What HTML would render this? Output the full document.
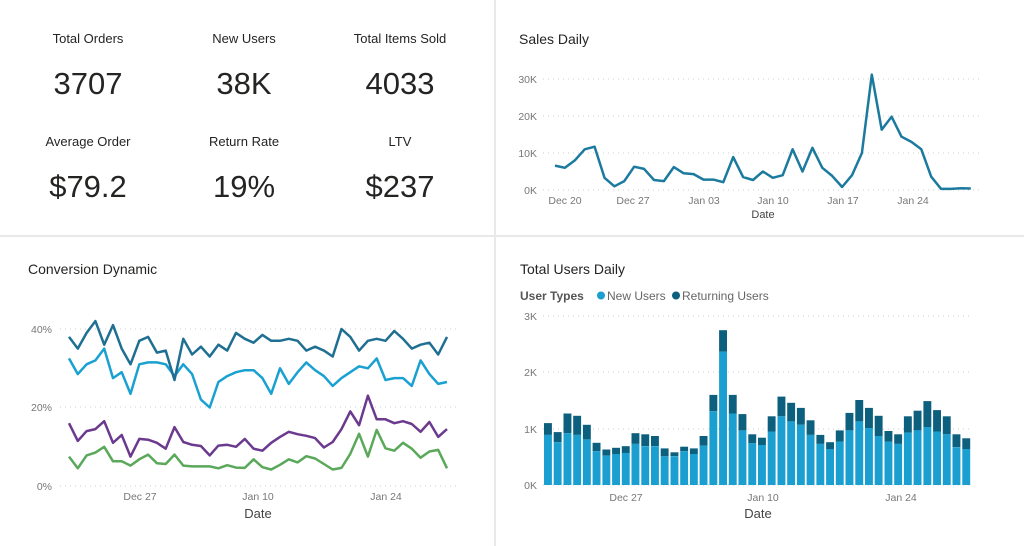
<!DOCTYPE html>
<html><head><meta charset="utf-8"><style>
html,body{margin:0;padding:0;background:#fff;width:1024px;height:546px;overflow:hidden;font-family:"Liberation Sans","DejaVu Sans",sans-serif}
svg{position:absolute;left:0;top:0}
</style></head><body>
<svg width="1024" height="546" viewBox="0 0 1024 546" font-family="Liberation Sans, DejaVu Sans, sans-serif">
<rect x="494" y="0" width="2" height="546" fill="#e9e9e9"/>
<rect x="0" y="235" width="1024" height="2" fill="#e9e9e9"/>
<g fill="#252423" text-anchor="middle">
<text x="88" y="43" font-size="13">Total Orders</text>
<text x="244" y="43" font-size="13">New Users</text>
<text x="400" y="43" font-size="13">Total Items Sold</text>
<text x="88" y="94" font-size="31">3707</text>
<text x="244" y="94" font-size="31">38K</text>
<text x="400" y="94" font-size="31">4033</text>
<text x="88" y="146" font-size="13">Average Order</text>
<text x="244" y="146" font-size="13">Return Rate</text>
<text x="400" y="146" font-size="13">LTV</text>
<text x="88" y="197" font-size="31">$79.2</text>
<text x="244" y="197" font-size="31">19%</text>
<text x="400" y="197" font-size="31">$237</text>
</g>
<g fill="#252423" font-size="14">
<text x="519" y="44">Sales Daily</text>
<text x="28" y="274">Conversion Dynamic</text>
<text x="520" y="274">Total Users Daily</text>
</g>
<g font-size="12">
<text x="520" y="300" fill="#555" font-weight="bold">User Types</text>
<circle cx="601" cy="295.5" r="4" fill="#1a9fd0"/>
<text x="607" y="300" fill="#666">New Users</text>
<circle cx="676" cy="295.5" r="4" fill="#0d5f7e"/>
<text x="682" y="300" fill="#666">Returning Users</text>
</g>
<g stroke="#ccc" stroke-dasharray="1 4" stroke-width="1">
<line x1="543" x2="980" y1="79" y2="79"/><line x1="543" x2="980" y1="116" y2="116"/><line x1="543" x2="980" y1="153" y2="153"/><line x1="543" x2="980" y1="190" y2="190"/>
<line x1="60" x2="456" y1="329" y2="329"/><line x1="60" x2="456" y1="407" y2="407"/><line x1="60" x2="456" y1="486" y2="486"/>
<line x1="543" x2="972" y1="316" y2="316"/><line x1="543" x2="972" y1="372" y2="372"/><line x1="543" x2="972" y1="429" y2="429"/><line x1="543" x2="972" y1="485" y2="485"/>
</g>
<g fill="#777" font-size="10.5" text-anchor="end">
<text x="537" y="83">30K</text><text x="537" y="120">20K</text><text x="537" y="157">10K</text><text x="537" y="194">0K</text>
<text x="52" y="333">40%</text><text x="52" y="411">20%</text><text x="52" y="490">0%</text>
<text x="537" y="320">3K</text><text x="537" y="376">2K</text><text x="537" y="433">1K</text><text x="537" y="489">0K</text>
</g>
<g fill="#777" font-size="10.5" text-anchor="middle">
<text x="565" y="204">Dec 20</text><text x="633" y="204">Dec 27</text><text x="704" y="204">Jan 03</text><text x="773" y="204">Jan 10</text><text x="843" y="204">Jan 17</text><text x="913" y="204">Jan 24</text>
<text x="140" y="500">Dec 27</text><text x="258" y="500">Jan 10</text><text x="386" y="500">Jan 24</text>
<text x="626" y="501">Dec 27</text><text x="763" y="501">Jan 10</text><text x="901" y="501">Jan 24</text>
</g>
<g fill="#444" text-anchor="middle">
<text x="763" y="218" font-size="11">Date</text>
<text x="258" y="518" font-size="13">Date</text>
<text x="758" y="518" font-size="13">Date</text>
</g>
<g id="dyn" fill="none" stroke-width="2.5" stroke-linejoin="round"></g>
<g id="bars"></g>
</svg>
<script>
var NS="http://www.w3.org/2000/svg";
function line(vals,x0,dx,y0,sc,col){var d="";for(var i=0;i<vals.length;i++){d+=(i?"L":"M")+(x0+i*dx).toFixed(1)+" "+(y0-vals[i]*sc).toFixed(1);}var p=document.createElementNS(NS,"path");p.setAttribute("d",d);p.setAttribute("stroke",col);document.getElementById("dyn").appendChild(p);}
var sales=[6.6,6.0,8.0,11.0,11.7,3.3,1.0,2.4,6.3,5.7,2.7,2.4,6.2,4.5,4.3,2.8,2.8,2.1,8.9,3.5,2.7,5.0,3.3,4.0,11.0,5.0,11.4,6.0,3.8,0.8,4.0,10.0,31.2,16.3,19.8,14.4,13.0,11.0,3.6,0.3,0.3,0.5,0.4];
line(sales,555,9.9,190,3.7,"#1b7a9e");
var dx=378/43;
line([7.5,4.5,7.8,8.5,10,6.3,6.3,5.2,6.8,8,5.8,5.6,8,5.2,5,5,5,4.5,5.3,4.7,4.6,6.8,4.8,4.2,5.4,6.8,6,7.6,7,5.6,4.2,4.6,8.2,13.3,7.5,14.3,9.6,9,11,9.5,7.2,8.8,9.2,4.5],69,dx,486,3.925,"#5aa85a");
line([16,11.5,14,14.5,16.5,11,13,7.5,12,11.8,11,9.5,15,11.2,10.5,10.2,7.8,10.3,10.5,10,12,9.5,9,11,12.5,13.8,13.2,12.8,12.2,9.8,11.2,14.5,19,15.5,23,17,17,16,16.5,15.8,13.8,16.3,12.5,14.5],69,dx,486,3.925,"#6b3a8e");
line([32.5,28.5,31,32,35,27.5,29,23.5,31,31.5,31.5,31,28,31,28.5,22,20,26.5,28,29,29.5,29.5,27.5,23.5,30,26,29,31.5,29.5,28,25.5,27.5,29,30.5,30,32.5,27,27.5,27.5,25.5,32,28.5,26,26.5],69,dx,486,3.925,"#1aa1d1");
line([38,35,39,42,36,41,35,31,37,38,34,34.5,27,37.5,33.5,35.5,33,36,34.5,39,37.5,36.5,38.5,37,37,37.5,37,34.5,35.5,34.5,33,40,38,34.5,37,37.5,37,39.5,37.5,35,36,36.5,33.5,38],69,dx,486,3.925,"#1f6f93");
var T=[1.10,0.94,1.27,1.23,1.07,0.75,0.63,0.66,0.69,0.92,0.90,0.87,0.65,0.58,0.68,0.65,0.87,1.60,2.75,1.60,1.26,0.90,0.84,1.22,1.57,1.46,1.37,1.15,0.89,0.76,0.97,1.28,1.51,1.37,1.23,0.96,0.90,1.22,1.32,1.49,1.33,1.22,0.90,0.83];
var N=[0.89,0.76,0.92,0.89,0.81,0.60,0.52,0.55,0.57,0.73,0.69,0.69,0.51,0.51,0.60,0.55,0.70,1.31,2.37,1.27,0.97,0.74,0.71,0.95,1.22,1.13,1.07,0.89,0.73,0.64,0.77,0.97,1.13,1.01,0.87,0.77,0.73,0.93,0.97,1.03,0.95,0.90,0.67,0.64];
var g=document.getElementById("bars"),bw=428/44,s=56.3,b=485;
for(var i=0;i<44;i++){var x=544+i*bw;
var r=document.createElementNS(NS,"rect");r.setAttribute("x",x.toFixed(1));r.setAttribute("width",(bw-1.8).toFixed(1));r.setAttribute("y",(b-T[i]*s).toFixed(1));r.setAttribute("height",((T[i]-N[i])*s).toFixed(1));r.setAttribute("fill","#0d5f7e");g.appendChild(r);
r=document.createElementNS(NS,"rect");r.setAttribute("x",x.toFixed(1));r.setAttribute("width",(bw-1.8).toFixed(1));r.setAttribute("y",(b-N[i]*s).toFixed(1));r.setAttribute("height",(N[i]*s).toFixed(1));r.setAttribute("fill","#1a9fd0");g.appendChild(r);}
</script>
</body></html>
